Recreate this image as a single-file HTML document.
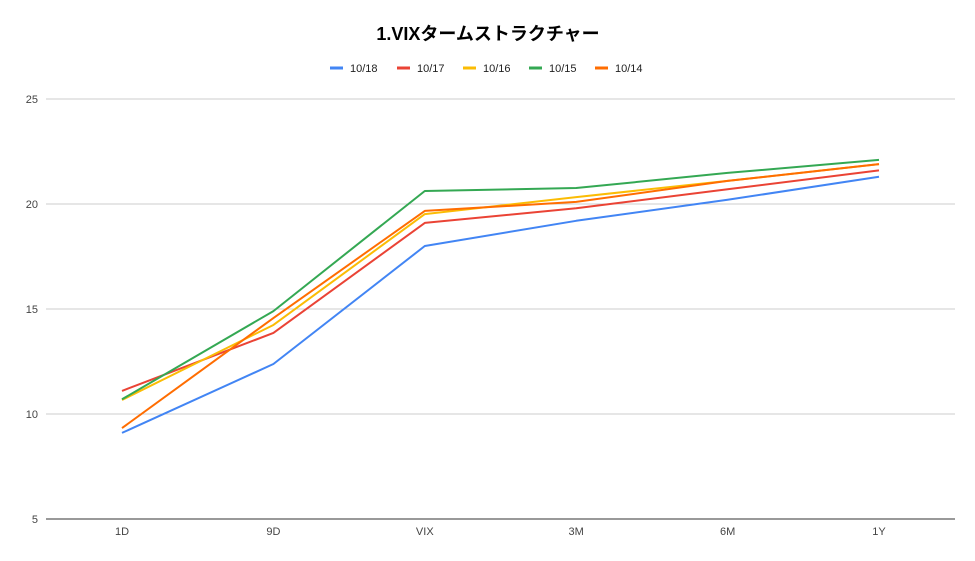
<!DOCTYPE html>
<html><head><meta charset="utf-8">
<style>
body{margin:0;background:#fff;font-family:"Liberation Sans","Noto Sans CJK JP",sans-serif;}
svg text{font-family:"Liberation Sans","Noto Sans CJK JP",sans-serif;}
</style></head>
<body>
<svg id="chart" width="975" height="556" viewBox="0 0 975 556" xmlns="http://www.w3.org/2000/svg">
<rect width="975" height="556" fill="#fff"/>
<text x="488" y="40" text-anchor="middle" font-size="18" font-weight="bold" fill="#000">1.VIXタームストラクチャー</text>
<g id="legend"></g>
<g id="grid"></g>
<g id="yaxis"></g>
<g id="xaxis"></g>
<g id="series"></g>
</svg>
<script>
const categories = ["1D","9D","VIX","3M","6M","1Y"];
const yTicks = [5,10,15,20,25];
const seriesNames = ["10/18","10/17","10/16","10/15","10/14"];
const seriesColors = ["#4285f4","#ea4335","#fbbc04","#34a853","#ff6d01"];
const s1018 = [9.1,12.38,18.0,19.2,20.2,21.3];
const s1017 = [11.1,13.86,19.1,19.8,20.7,21.6];
const s1016 = [10.67,14.24,19.52,20.33,21.1,21.9];
const s1015 = [10.7,14.9,20.62,20.76,21.48,22.1];
const s1014 = [9.33,14.57,19.67,20.1,21.1,21.9];
const seriesValues = [s1018,s1017,s1016,s1015,s1014];

const NS="http://www.w3.org/2000/svg";
const plotL=46, plotR=955, yMin=5, yMax=25, pxBottom=519, pxTop=99;
function yScale(v){return pxBottom-(v-yMin)/(yMax-yMin)*(pxBottom-pxTop);}
function xScale(i){return 122+i*(879-122)/(categories.length-1);}
function mk(tag,attrs,parent){const e=document.createElementNS(NS,tag);for(const k in attrs)e.setAttribute(k,attrs[k]);parent.appendChild(e);return e;}

const grid=document.getElementById('grid'), yaxis=document.getElementById('yaxis'), xaxis=document.getElementById('xaxis');
yTicks.forEach(t=>{
  const y=yScale(t);
  const l=mk('line',{x1:plotL,x2:plotR,y1:y,y2:y,stroke:t===yMin?'#333':'#ccc','stroke-width':1},grid);
  
  
  const tx=mk('text',{x:38,y:y+4,'text-anchor':'end','font-size':11,fill:'#444'},yaxis);
  tx.textContent=t;
  
  
});
categories.forEach((c,i)=>{
  const tx=mk('text',{x:xScale(i),y:535,'text-anchor':'middle','font-size':11,fill:'#444'},xaxis);
  tx.textContent=c;
  
  
});
const series=document.getElementById('series');
seriesValues.forEach((vals,si)=>{
  const pts=vals.map((v,i)=>xScale(i)+','+yScale(v)).join(' ');
  const p=mk('polyline',{points:pts,fill:'none',stroke:seriesColors[si],'stroke-width':2,'stroke-linejoin':'round'},series);
  
  
});
const legend=document.getElementById('legend');
const legX=[330,397,463,529,595];
seriesNames.forEach((n,i)=>{
  const g=mk('g',{},legend);
  
  
  mk('line',{x1:legX[i],x2:legX[i]+13,y1:68,y2:68,stroke:seriesColors[i],'stroke-width':3},g);
  const tx=mk('text',{x:legX[i]+20,y:72,'font-size':11,fill:'#222'},g);
  tx.textContent=n;
});
</script>
</body></html>
